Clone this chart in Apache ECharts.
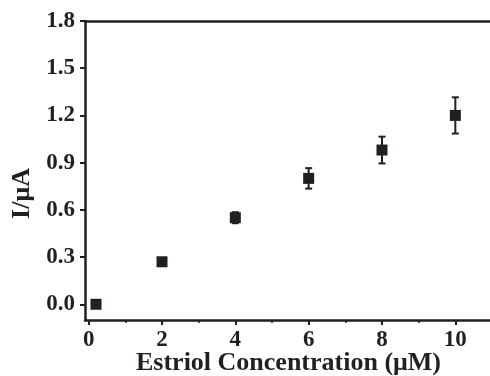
<!DOCTYPE html>
<html>
<head>
<meta charset="utf-8">
<script src="https://cdn.jsdelivr.net/npm/echarts@6/dist/echarts.min.js"></script>
<style>
  html, body { margin: 0; padding: 0; background: #fff; }
  #chart { width: 490px; height: 376px; }
</style>
</head>
<body>
<div id="chart"></div>
<script>
// estriol concentration (uM) vs peak current (uA)
const concentration = [0.2, 2, 4, 6, 8, 10]
const current = [0.0, 0.27, 0.55, 0.80, 0.98, 1.20]
const errors = [0, 0, 0.035, 0.065, 0.085, 0.115]

const xMajorTicks = [0, 2, 4, 6, 8, 10]
const xMinorTicks = [1, 3, 5, 7, 9]
const yMajorTicks = [0.0, 0.3, 0.6, 0.9, 1.2, 1.5, 1.8]
const yMinorTicks = [0.15, 0.45, 0.75, 1.05, 1.35, 1.65]

const ink = "#231f20"
const font = "Liberation Serif"

const chart = echarts.init(document.getElementById("chart"))

const baseX = {
  type: "value",
  min: -0.1,
  max: 11,
  splitLine: { show: false },
}
const baseY = {
  type: "value",
  min: -0.1,
  max: 1.8,
  splitLine: { show: false },
}

const option = {
  animation: false,
  backgroundColor: "#fff",
  grid: { left: 85, top: 21, width: 407, height: 299, outerBoundsMode: "none", containLabel: false },
  xAxis: [
    {
      ...baseX,
      position: "bottom",
      name: "Estriol Concentration (\u03bcM)",
      nameLocation: "middle",
      nameGap: 30,
      nameMoveOverlap: false,
      nameTextStyle: { fontFamily: font, fontWeight: "bold", fontSize: 26, color: ink },
      axisLine: { onZero: false, lineStyle: { color: ink, width: 2.5 } },
      axisTick: { inside: false, length: 5, lineStyle: { color: ink, width: 2 }, customValues: xMajorTicks },
      axisLabel: {
        fontFamily: font, fontWeight: "bold", fontSize: 23, color: ink, margin: 9,
        customValues: xMajorTicks,
      },
    },
    {
      ...baseX,
      position: "bottom",
      axisLine: { show: false, onZero: false },
      axisTick: { inside: false, length: 3, lineStyle: { color: ink, width: 1.5 }, customValues: xMinorTicks },
      axisLabel: { show: false },
    },
    {
      ...baseX,
      position: "top",
      axisLine: { onZero: false, lineStyle: { color: ink, width: 2.5 } },
      axisTick: { show: false },
      axisLabel: { show: false },
    },
  ],
  yAxis: [
    {
      ...baseY,
      name: "I/\u03bcA",
      nameLocation: "middle",
      nameGap: 50,
      nameMoveOverlap: false,
      nameTextStyle: {
        fontFamily: font, fontWeight: "bold", fontSize: 26, color: ink,
        padding: [0, 46, 0, 0],
      },
      axisLine: { onZero: false, lineStyle: { color: ink, width: 2.5 } },
      axisTick: { inside: false, length: 5, lineStyle: { color: ink, width: 2 }, customValues: yMajorTicks },
      axisLabel: {
        fontFamily: font, fontWeight: "bold", fontSize: 23, color: ink, margin: 10,
        customValues: yMajorTicks,
        formatter: (v) => v.toFixed(1),
      },
    },
    {
      ...baseY,
      axisLine: { show: false, onZero: false },
      axisTick: { inside: false, length: 3, lineStyle: { color: ink, width: 1.5 }, customValues: yMinorTicks },
      axisLabel: { show: false },
    },
  ],
  series: [
    {
      type: "custom",
      xAxisIndex: 0,
      yAxisIndex: 0,
      data: concentration.map((x, i) => [x, current[i] - errors[i], current[i] + errors[i]]),
      renderItem: (params, api) => {
        const lo = api.coord([api.value(0), api.value(1)])
        const hi = api.coord([api.value(0), api.value(2)])
        const cap = 3.5
        const style = { stroke: ink, lineWidth: 2 }
        return {
          type: "group",
          children: [
            { type: "line", shape: { x1: lo[0], y1: lo[1], x2: hi[0], y2: hi[1] }, style },
            { type: "line", shape: { x1: lo[0] - cap, y1: lo[1], x2: lo[0] + cap, y2: lo[1] }, style },
            { type: "line", shape: { x1: hi[0] - cap, y1: hi[1], x2: hi[0] + cap, y2: hi[1] }, style },
          ],
        }
      },
      z: 2,
    },
    {
      type: "scatter",
      xAxisIndex: 0,
      yAxisIndex: 0,
      symbol: "rect",
      symbolSize: 11,
      itemStyle: { color: ink, opacity: 1 },
      data: concentration.map((x, i) => [x, current[i]]),
      z: 3,
    },
  ],
}

chart.setOption(option)
</script>
</body>
</html>
